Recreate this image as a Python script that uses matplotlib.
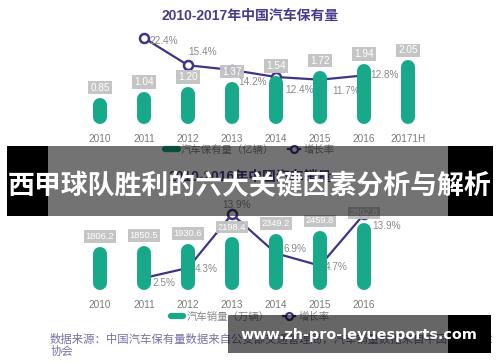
import matplotlib
matplotlib.use("Agg")
import matplotlib.pyplot as plt
from matplotlib.lines import Line2D
from matplotlib.patches import Rectangle

plt.rcParams['font.family'] = ['Liberation Sans', 'Noto Sans CJK SC', 'DejaVu Sans']

# ---------------- data ----------------
years_top = ["2010", "2011", "2012", "2013", "2014", "2015", "2016", "20171H"]
stock_top = [0.85, 1.04, 1.20, 1.37, 1.54, 1.72, 1.94, 2.05]
growth_top_years = ["2011", "2012", "2013", "2014", "2015", "2016"]
growth_top = [22.4, 15.4, 14.2, 12.4, 11.7, 12.8]
growth_top_offsets = [(5, -3), (0, 13), (6, -12), (9, -13), (12, -11), (6, 0)]

years_bot = ["2010", "2011", "2012", "2013", "2014", "2015", "2016"]
sales_bot = [1806.2, 1850.5, 1930.6, 2198.4, 2349.2, 2459.8, 2802.8]
growth_bot_years = ["2011", "2012", "2013", "2014", "2015", "2016"]
growth_bot = [2.5, 4.3, 13.9, 6.9, 4.7, 13.9]
growth_bot_offsets = [(8, -5), (7, -1), (-10, 9), (7, 4), (5, -1), (8, -12)]

title_top = "2010-2017年中国汽车保有量"
title_bot = "2010-2016年中国汽车销量"
legend_top = ["汽车保有量（亿辆）", "增长率"]
legend_bot = ["汽车销量（万辆）", "增长率"]
source_text = "数据来源：中国汽车保有量数据来自公安部交通管理局，汽车销量数据来自中国汽车工业\n协会"
banner_text = "西甲球队胜利的六大关键因素分析与解析"
url_text = "www.zh-pro-leyuesports.com"

GREEN = "#17a98a"
PURPLE = "#3e3584"
TITLE_C = "#463c8a"
GRAY_BOX = "#c2c2c2"
TICK_C = "#7a7a7a"
LBL_C = "#8a8a8a"

W, H = 500, 362
fig = plt.figure(figsize=(W / 100, H / 100), dpi=100)


def rect(x0, y0, x1, y1):
    return [x0 / W, 1 - y1 / H, (x1 - x0) / W, (y1 - y0) / H]


def draw_chart(ax_rect, cats, vals, ylim_bar, gyears, gvals, gylim, goffs, vfmt, vsize):
    ax = fig.add_axes(ax_rect)
    ax.set_xlim(-0.5, 7.5)
    ax.set_ylim(*ylim_bar)
    for s in ax.spines.values():
        s.set_visible(False)
    ax.set_yticks([])
    xs = list(range(len(cats)))
    ax.set_xticks(xs)
    ax.set_xticklabels(cats, fontsize=7.2, color=TICK_C)
    ax.tick_params(axis='x', length=0, pad=7)
    ax.patch.set_visible(False)
    # rounded bars
    bw_px = 14
    fig.canvas.draw()
    inv = ax.transData.inverted()
    p0 = inv.transform((0, 0))
    p1 = inv.transform((0, bw_px / 2))
    pad = p1[1] - p0[1]
    for x, v in zip(xs, vals):
        ax.plot([x, x], [pad, v - pad], color=GREEN, lw=bw_px * 0.72,
                solid_capstyle='round', zorder=2)
        ax.annotate(vfmt.format(v), (x, v), xytext=(0, 10), textcoords='offset pixels',
                    ha='center', va='center', fontsize=vsize, color='white', zorder=6,
                    bbox=dict(boxstyle='square,pad=0.18', fc=GRAY_BOX, ec='none', alpha=0.95))
    ax2 = ax.twinx()
    ax2.set_ylim(*gylim)
    ax2.set_yticks([])
    for s in ax2.spines.values():
        s.set_visible(False)
    ax2.patch.set_visible(False)
    gx = [cats.index(y) for y in gyears]
    ax2.plot(gx, gvals, color=PURPLE, lw=1.6, marker='o', ms=6.5, mfc='white',
             mec=PURPLE, mew=1.8, zorder=3)
    for x, v, (dx, dy) in zip(gx, gvals, goffs):
        ax2.annotate(f"{v:.1f}%", (x, v), xytext=(dx, dy), textcoords='offset pixels',
                     ha='left', va='center', fontsize=7.2, color=LBL_C, zorder=4)
    # keep value labels above line
    ax.set_zorder(ax2.get_zorder() + 1)
    return ax


draw_chart(rect(78, 20, 430, 124), years_top, stock_top, (0, 104 / 31.0),
           growth_top_years, growth_top, (0.35, 27.0), growth_top_offsets, "{:.2f}", 7.2)
draw_chart(rect(78, 195, 430, 290), years_bot, sales_bot, (0, 95 / 0.0240),
           growth_bot_years, growth_bot, (0.357, 17.32), growth_bot_offsets, "{:.1f}", 6.7)

# titles
fig.text(250 / W, 1 - 16 / H, title_top, ha='center', va='center', fontsize=10,
         fontweight='bold', color=TITLE_C)
fig.text(250 / W, 1 - 177 / H, title_bot, ha='center', va='center', fontsize=10,
         fontweight='bold', color=TITLE_C)

# legends
def make_legend(labels, y):
    h1 = Line2D([], [], color=GREEN, lw=4.5, solid_capstyle='round')
    h2 = Line2D([], [], color=PURPLE, lw=1.6, marker='o', ms=5, mfc='white', mec=PURPLE, mew=1.6)
    fig.legend([h1, h2], labels, loc='center', bbox_to_anchor=(250 / W, 1 - y / H), ncol=2,
               frameon=False, fontsize=7.5, handlelength=1.2, handletextpad=0.3,
               columnspacing=1.3, labelcolor='#888888')

make_legend(legend_top, 150)
make_legend(legend_bot, 317)

fig.text(50 / W, 1 - 345 / H, source_text, ha='left', va='center', fontsize=8.2,
         color='#7a6fa6', style='italic', linespacing=1.1)

# overlay banners
ov = fig.add_axes([0, 0, 1, 1], zorder=20)
ov.set_xlim(0, W)
ov.set_ylim(H, 0)
ov.axis('off')
ov.patch.set_visible(False)
ov.add_patch(Rectangle((7, 146), 41, 70, fc='black', ec='none'))
ov.add_patch(Rectangle((448, 146), 45, 70, fc='black', ec='none'))
ov.add_patch(Rectangle((48, 146), 400, 70, fc='black', ec='none', alpha=0.55))
ov.text(250, 186, banner_text, ha='center', va='center', fontsize=19.4, fontweight='bold',
        color='white', family=['Noto Sans CJK SC', 'DejaVu Sans'])
ov.add_patch(Rectangle((228, 315), 220, 38, fc='black', ec='none', alpha=0.6))
ov.add_patch(Rectangle((448, 315), 43, 38, fc='black', ec='none'))
ov.text(359, 335, url_text, ha='center', va='center', fontsize=10.4, fontweight='bold',
        color='white', family=['DejaVu Sans'])

fig.savefig("out.png", dpi=100)
